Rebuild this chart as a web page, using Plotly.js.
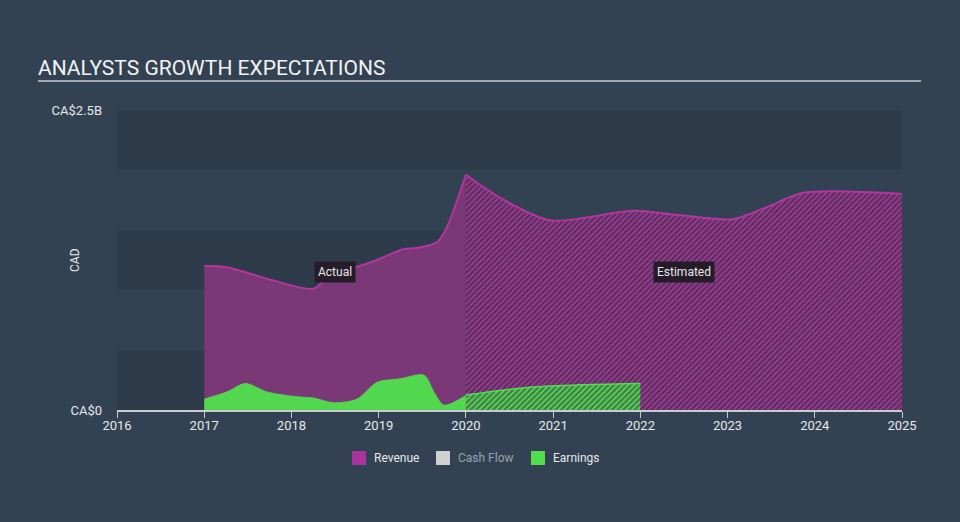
<!DOCTYPE html>
<html>
<head>
<meta charset="utf-8">
<script src="https://cdn.plot.ly/plotly-3.0.1.min.js"></script>
<style>
html,body{margin:0;padding:0;background:#334252;}
#chart{width:960px;height:522px;}
</style>
</head>
<body>
<div id="chart"></div>
<script>
// Revenue (CA$ billions)
var revActualX = [2017.0, 2017.26, 2017.79, 2018.25, 2018.41, 2018.98, 2019.28, 2019.44, 2019.67, 2019.78, 2020.0];
var revActualY = [1.20, 1.19, 1.08, 1.01, 1.10, 1.25, 1.34, 1.35, 1.40, 1.52, 1.96];
var revEstX = [2020.0, 2020.39, 2020.97, 2021.92, 2022.49, 2023.06, 2023.45, 2023.87, 2025.0];
var revEstY = [1.96, 1.77, 1.58, 1.66, 1.62, 1.59, 1.69, 1.81, 1.80];
// Earnings (CA$ billions)
var earnActualX = [2017.0, 2017.26, 2017.47, 2017.72, 2018.06, 2018.25, 2018.48, 2018.75, 2018.98, 2019.25, 2019.52, 2019.64, 2019.75, 2020.0];
var earnActualY = [0.09, 0.15, 0.22, 0.15, 0.11, 0.10, 0.06, 0.09, 0.23, 0.26, 0.29, 0.14, 0.04, 0.12];
var earnEstX = [2020.0, 2020.59, 2020.97, 2022.0];
var earnEstY = [0.125, 0.18, 0.20, 0.22];
var xTicks = [2016, 2017, 2018, 2019, 2020, 2021, 2022, 2023, 2024, 2025];
var yTickVals = [0, 2.5];
var yTickText = ['CA$0', 'CA$2.5B'];
var legendNames = ['Revenue', 'Cash Flow', 'Earnings'];
var legendColors = ['#a8359e', '#d0d0d0', '#52dd4e'];
var legendTextColors = ['#e6e8ea', '#9aa3ad', '#e6e8ea'];

var traces = [
  {x: revActualX, y: revActualY, type: 'scatter', mode: 'lines', fill: 'tozeroy',
   line: {color: '#b2369f', width: 2, shape: 'spline', smoothing: 0.8},
   fillcolor: '#7a3976', showlegend: false, hoverinfo: 'skip'},
  {x: revEstX, y: revEstY, type: 'scatter', mode: 'lines', fill: 'tozeroy',
   line: {color: '#b2369f', width: 2, shape: 'spline', smoothing: 0.8},
   fillcolor: '#5c2f5e',
   fillpattern: {shape: '/', bgcolor: '#5c2e5e', fgcolor: '#a03c96', size: 4, solidity: 0.4},
   showlegend: false, hoverinfo: 'skip'},
  {x: earnActualX, y: earnActualY, type: 'scatter', mode: 'lines', fill: 'tozeroy',
   line: {color: '#52d84e', width: 1, shape: 'spline', smoothing: 0.8},
   fillcolor: '#52d84e', showlegend: false, hoverinfo: 'skip'},
  {x: earnEstX, y: earnEstY, type: 'scatter', mode: 'lines', fill: 'tozeroy',
   line: {color: '#52dd4e', width: 1.5, shape: 'spline', smoothing: 0.8},
   fillcolor: '#3f8f44',
   fillpattern: {shape: '/', bgcolor: '#3d7e45', fgcolor: '#5cd658', size: 4, solidity: 0.45},
   showlegend: false, hoverinfo: 'skip'}
];

var shapes = [];
var bands = [[0, 0.5], [1.0, 1.5], [2.0, 2.5]];
bands.forEach(function (b) {
  shapes.push({type: 'rect', xref: 'paper', yref: 'y', x0: 0, x1: 1, y0: b[0], y1: b[1],
    fillcolor: '#2e3b4a', line: {width: 0}, layer: 'below'});
});
// title underline
shapes.push({type: 'line', xref: 'paper', yref: 'paper', x0: -0.1006, x1: 1.0242, y0: 1.0967, y1: 1.0967,
  line: {color: '#c8ccd2', width: 1.5}});

var annotations = [
  {x: 2018.5, y: 1.15, xref: 'x', yref: 'y', text: 'Actual', showarrow: false,
   bgcolor: '#241c28', font: {size: 12, color: '#e8e8ea'}, borderpad: 3},
  {x: 2022.5, y: 1.15, xref: 'x', yref: 'y', text: 'Estimated', showarrow: false,
   bgcolor: '#241c28', font: {size: 12, color: '#e8e8ea'}, borderpad: 3},
  {x: -0.0535, y: 0.5, xref: 'paper', yref: 'paper', xanchor: 'center', yanchor: 'middle',
   text: 'CAD', textangle: -90, showarrow: false, font: {size: 12, color: '#e6e8ea'}}
];

// custom legend (paper coords)
var legendSwatchX = [(352 - 117) / 785, (436 - 117) / 785, (531 - 117) / 785];
var legendY = (410 - 458) / 300;
for (var i = 0; i < legendNames.length; i++) {
  var x0 = legendSwatchX[i];
  shapes.push({type: 'rect', xref: 'paper', yref: 'paper', x0: x0, x1: x0 + 14 / 785,
    y0: legendY - 7 / 300, y1: legendY + 7 / 300, fillcolor: legendColors[i], line: {width: 0}});
  annotations.push({x: x0 + 20 / 785, y: legendY, xref: 'paper', yref: 'paper', xanchor: 'left', yanchor: 'middle',
    text: legendNames[i], showarrow: false, font: {size: 12, color: legendTextColors[i]}});
}

var layout = {
  width: 960, height: 522,
  margin: {l: 117, r: 58, t: 110, b: 112},
  paper_bgcolor: '#334252', plot_bgcolor: 'rgba(0,0,0,0)',
  font: {family: 'Roboto, "Open Sans", sans-serif', color: '#e6e8ea'},
  title: {text: 'ANALYSTS GROWTH EXPECTATIONS', x: 38 / 960, xanchor: 'left', y: 1 - 68 / 522, yanchor: 'middle',
    font: {size: 21, color: '#f2f3f4', family: 'Roboto, sans-serif'}},
  xaxis: {range: [2016, 2025], tickvals: xTicks, ticktext: xTicks.map(String), showgrid: false, zeroline: false,
    showline: true, linecolor: '#c7ccd3', linewidth: 1.5, ticks: 'outside', ticklen: 6, tickcolor: '#c7ccd3',
    ticklabelstandoff: -3, tickfont: {size: 13, color: '#e6e8ea'}, fixedrange: true},
  yaxis: {range: [0, 2.5], tickvals: yTickVals, ticktext: yTickText, showgrid: false, zeroline: false,
    showline: false, ticks: '', ticklabelstandoff: 14, tickfont: {size: 13, color: '#e6e8ea'},
    fixedrange: true},
  shapes: shapes,
  annotations: annotations,
  showlegend: false
};

Plotly.newPlot('chart', traces, layout, {displayModeBar: false, staticPlot: true});
</script>
</body>
</html>
